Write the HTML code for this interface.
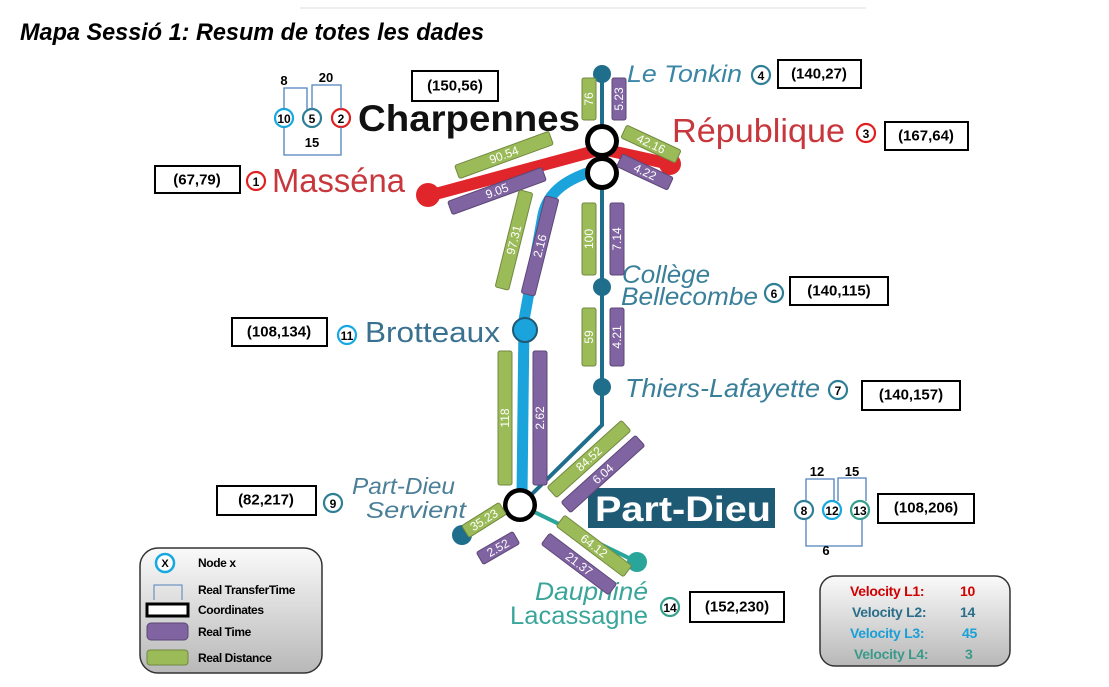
<!DOCTYPE html>
<html><head><meta charset="utf-8"><style>
html,body{margin:0;padding:0;background:#fff;}
svg{display:block;font-family:"Liberation Sans",sans-serif;}
.b text{fill:#fff;font-size:12px;text-anchor:middle;dominant-baseline:central;}
.g rect{fill:#9bbb59;stroke:#71893f;stroke-width:1;}
.p rect{fill:#8064a2;stroke:#5c4776;stroke-width:1;}
.box rect{fill:#fff;stroke:#000;stroke-width:2;}
.box text{font-weight:bold;font-size:15px;text-anchor:middle;dominant-baseline:central;}
.nd circle{fill:#fff;stroke-width:2.2;}
.nd text{font-weight:bold;font-size:12px;text-anchor:middle;dominant-baseline:central;}
.br{fill:none;stroke:#4f81bd;stroke-width:1.3;}
.bt{font-weight:bold;font-size:13px;text-anchor:middle;}
</style></head><body>
<svg width="1109" height="687" viewBox="0 0 1109 687">
<defs>
<linearGradient id="gr" x1="0" y1="0" x2="0" y2="1"><stop offset="0" stop-color="#fafafa"/><stop offset="1" stop-color="#b8b8b8"/></linearGradient>
</defs>
<line x1="300" y1="8" x2="866" y2="8" stroke="#ddd" stroke-width="1"/>
<text x="20" y="40" font-size="24" font-weight="bold" font-style="italic" textLength="464" lengthAdjust="spacingAndGlyphs">Mapa Sessió 1: Resum de totes les dades</text>

<!-- lines -->
<polyline points="602,73 602,425 528,498" fill="none" stroke="#1f6e8c" stroke-width="4"/>
<line x1="520" y1="505" x2="462" y2="535" stroke="#1f6e8c" stroke-width="4"/>
<line x1="520" y1="505" x2="637" y2="562" stroke="#2aa59a" stroke-width="4"/>
<path d="M596 170 C570 178 548 190 543 215 L524 320 L522 495" fill="none" stroke="#1ba3dc" stroke-width="11"/>
<polyline points="428,196 602,149 670,164" fill="none" stroke="#e0262b" stroke-width="12"/>
<circle cx="428" cy="195" r="12" fill="#e0262b"/>
<circle cx="670" cy="164" r="11" fill="#e0262b"/>
<circle cx="602" cy="74" r="9" fill="#1f6e8c"/>
<circle cx="602" cy="287" r="9" fill="#1f6e8c"/>
<circle cx="602" cy="387" r="9" fill="#1f6e8c"/>
<circle cx="462" cy="535" r="10" fill="#1f6e8c"/>
<circle cx="637" cy="562" r="10" fill="#2aa59a"/>
<circle cx="525" cy="330" r="12" fill="#1ba3dc" stroke="#1f5a75" stroke-width="2"/>
<circle cx="602" cy="141" r="17" fill="#000"/><circle cx="602" cy="173" r="17" fill="#000"/>
<circle cx="602" cy="141" r="12" fill="#fff"/><circle cx="602" cy="173" r="12" fill="#fff"/>
<circle cx="520" cy="505" r="17" fill="#000"/><circle cx="520" cy="505" r="12.5" fill="#fff"/>

<!-- station labels -->
<text x="627" y="82" font-size="24" font-style="italic" fill="#3a86a6" textLength="115" lengthAdjust="spacingAndGlyphs">Le Tonkin</text>
<text x="358" y="131" font-size="37" font-weight="bold" fill="#111" textLength="222" lengthAdjust="spacingAndGlyphs">Charpennes</text>
<text x="672" y="142" font-size="33" fill="#c7373c" textLength="173" lengthAdjust="spacingAndGlyphs">République</text>
<text x="272" y="192" font-size="33" fill="#c7373c" textLength="133" lengthAdjust="spacingAndGlyphs">Masséna</text>
<text x="622" y="283" font-size="25" font-style="italic" fill="#3a7f9a" textLength="88" lengthAdjust="spacingAndGlyphs">Collège</text>
<text x="621" y="305" font-size="25" font-style="italic" fill="#3a7f9a" textLength="137" lengthAdjust="spacingAndGlyphs">Bellecombe</text>
<text x="365" y="342" font-size="29" fill="#3a7090" textLength="135" lengthAdjust="spacingAndGlyphs">Brotteaux</text>
<text x="625" y="397" font-size="26" font-style="italic" fill="#3a7f9a" textLength="195" lengthAdjust="spacingAndGlyphs">Thiers-Lafayette</text>
<text x="352" y="494" font-size="23" font-style="italic" fill="#4b7f98" textLength="103" lengthAdjust="spacingAndGlyphs">Part-Dieu</text>
<text x="366" y="518" font-size="23" font-style="italic" fill="#4b7f98" textLength="100" lengthAdjust="spacingAndGlyphs">Servient</text>
<text x="535" y="600" font-size="25" font-style="italic" fill="#3aa59a" textLength="113" lengthAdjust="spacingAndGlyphs">Dauphiné</text>
<text x="510" y="624" font-size="25" fill="#3aa59a" textLength="138" lengthAdjust="spacingAndGlyphs">Lacassagne</text>
<rect x="588" y="488" width="187" height="40" fill="#1f5a75"/>
<text x="595" y="521" font-size="35" font-weight="bold" fill="#fff" textLength="176" lengthAdjust="spacingAndGlyphs">Part-Dieu</text>

<!-- bars -->
<g class="b g" transform="translate(589,99) rotate(-90)"><rect x="-21" y="-7" width="42" height="14" rx="2"/><text>76</text></g>
<g class="b p" transform="translate(619,99) rotate(-90)"><rect x="-21" y="-7" width="42" height="14" rx="2"/><text>5.23</text></g>
<g class="b g" transform="translate(504,155) rotate(-20)"><rect x="-50" y="-7" width="100" height="14" rx="2"/><text>90.54</text></g>
<g class="b p" transform="translate(497,191) rotate(-20)"><rect x="-50" y="-7" width="100" height="14" rx="2"/><text>9.05</text></g>
<g class="b g" transform="translate(651,144) rotate(25)"><rect x="-30" y="-7" width="60" height="14" rx="2"/><text>42.16</text></g>
<g class="b p" transform="translate(645,172) rotate(25)"><rect x="-28" y="-7" width="56" height="14" rx="2"/><text>4.22</text></g>
<g class="b g" transform="translate(514,240) rotate(-76)"><rect x="-50" y="-7" width="100" height="14" rx="2"/><text>97.31</text></g>
<g class="b p" transform="translate(540,246) rotate(-76)"><rect x="-50" y="-7" width="100" height="14" rx="2"/><text>2.16</text></g>
<g class="b g" transform="translate(589,239) rotate(-90)"><rect x="-36" y="-7" width="72" height="14" rx="2"/><text>100</text></g>
<g class="b p" transform="translate(617,239) rotate(-90)"><rect x="-36" y="-7" width="72" height="14" rx="2"/><text>7.14</text></g>
<g class="b g" transform="translate(589,337) rotate(-90)"><rect x="-29" y="-7" width="58" height="14" rx="2"/><text>59</text></g>
<g class="b p" transform="translate(617,337) rotate(-90)"><rect x="-29" y="-7" width="58" height="14" rx="2"/><text>4.21</text></g>
<g class="b g" transform="translate(505,418) rotate(-90)"><rect x="-67" y="-7" width="134" height="14" rx="2"/><text>118</text></g>
<g class="b p" transform="translate(540,418) rotate(-90)"><rect x="-67" y="-7" width="134" height="14" rx="2"/><text>2.62</text></g>
<g class="b g" transform="translate(589,459) rotate(-42)"><rect x="-50" y="-7" width="100" height="14" rx="2"/><text>84.52</text></g>
<g class="b p" transform="translate(603,474) rotate(-42)"><rect x="-50" y="-7" width="100" height="14" rx="2"/><text>6.04</text></g>
<g class="b g" transform="translate(484,520) rotate(-32)"><rect x="-22" y="-7" width="44" height="14" rx="2"/><text>35.23</text></g>
<g class="b p" transform="translate(498,548) rotate(-30)"><rect x="-21" y="-7" width="42" height="14" rx="2"/><text>2.52</text></g>
<g class="b g" transform="translate(594,546) rotate(37)"><rect x="-42" y="-7" width="84" height="14" rx="2"/><text>64.12</text></g>
<g class="b p" transform="translate(579,564) rotate(37)"><rect x="-42" y="-7" width="84" height="14" rx="2"/><text>21.37</text></g>

<!-- coord boxes -->
<g class="box"><rect x="412" y="71" width="86" height="30"/><text x="455" y="86">(150,56)</text></g>
<g class="box"><rect x="778" y="60" width="83" height="28"/><text x="819" y="74">(140,27)</text></g>
<g class="box"><rect x="885" y="122" width="83" height="28"/><text x="926" y="136">(167,64)</text></g>
<g class="box"><rect x="155" y="166" width="85" height="27"/><text x="197" y="180">(67,79)</text></g>
<g class="box"><rect x="790" y="277" width="98" height="28"/><text x="839" y="291">(140,115)</text></g>
<g class="box"><rect x="232" y="318" width="95" height="28"/><text x="279" y="332">(108,134)</text></g>
<g class="box"><rect x="862" y="381" width="98" height="29"/><text x="911" y="395">(140,157)</text></g>
<g class="box"><rect x="217" y="486" width="99" height="29"/><text x="266" y="500">(82,217)</text></g>
<g class="box"><rect x="878" y="494" width="96" height="29"/><text x="926" y="508">(108,206)</text></g>
<g class="box"><rect x="690" y="592" width="94" height="30"/><text x="737" y="607">(152,230)</text></g>

<!-- nodes -->
<g class="nd">
<circle cx="256" cy="181" r="9" stroke="#e02020"/><text x="256" y="182">1</text>
<circle cx="341" cy="118" r="9" stroke="#e02020"/><text x="341" y="119">2</text>
<circle cx="312" cy="118" r="9" stroke="#2e7f96"/><text x="312" y="119">5</text>
<circle cx="284" cy="118" r="9" stroke="#16a8e0"/><text x="284" y="119">10</text>
<circle cx="866" cy="133" r="9" stroke="#e02020"/><text x="866" y="134">3</text>
<circle cx="761" cy="75" r="9" stroke="#2e7f96"/><text x="761" y="76">4</text>
<circle cx="774" cy="293" r="9" stroke="#2e7f96"/><text x="774" y="294">6</text>
<circle cx="838" cy="390" r="9" stroke="#2e7f96"/><text x="838" y="391">7</text>
<circle cx="804" cy="510" r="9" stroke="#2e7f96"/><text x="804" y="511">8</text>
<circle cx="832" cy="510" r="9" stroke="#16a8e0"/><text x="832" y="511">12</text>
<circle cx="860" cy="510" r="9" stroke="#35a08c"/><text x="860" y="511">13</text>
<circle cx="333" cy="503" r="9" stroke="#2e7f96"/><text x="333" y="504">9</text>
<circle cx="347" cy="335" r="9" stroke="#16a8e0"/><text x="347" y="336">11</text>
<circle cx="670" cy="607" r="9" stroke="#35a08c"/><text x="670" y="608">14</text>
</g>

<!-- brackets -->
<polyline class="br" points="284,109 284,88 307,88 307,110"/>
<polyline class="br" points="312,109 312,85 341,85 341,109"/>
<polyline class="br" points="284,127 284,155 341,155 341,127"/>
<text class="bt" x="284" y="85">8</text>
<text class="bt" x="326" y="82">20</text>
<text class="bt" x="312" y="147">15</text>
<polyline class="br" points="806,501 806,479 834,479 834,501"/>
<polyline class="br" points="838,501 838,478 866,478 866,501"/>
<polyline class="br" points="806,519 806,546 862,546 862,519"/>
<text class="bt" x="817" y="476">12</text>
<text class="bt" x="852" y="476">15</text>
<text class="bt" x="826" y="555">6</text>

<!-- legend -->
<rect x="140" y="548" width="182" height="125" rx="18" fill="url(#gr)" stroke="#333" stroke-width="1.5"/>
<circle cx="165" cy="563" r="9" fill="#fff" stroke="#16a8e0" stroke-width="2.5"/>
<text x="165" y="567" font-size="11" font-weight="bold" text-anchor="middle">X</text>
<g font-size="12" font-weight="bold" letter-spacing="-0.4">
<text x="198" y="567">Node x</text>
<polyline points="154,600 154,585 182,585 182,600" fill="none" stroke="#4f81bd" stroke-width="1"/>
<text x="198" y="594">Real TransferTime</text>
<rect x="147" y="604" width="41" height="12" fill="#fff" stroke="#000" stroke-width="3"/>
<text x="198" y="614">Coordinates</text>
<rect x="147" y="623" width="41" height="17" rx="4" fill="#8064a2" stroke="#5c4776"/>
<text x="198" y="636">Real Time</text>
<rect x="147" y="650" width="41" height="15" rx="3" fill="#9bbb59" stroke="#71893f"/>
<text x="198" y="662">Real Distance</text>
</g>

<!-- velocity -->
<rect x="820" y="576" width="190" height="90" rx="15" fill="url(#gr)" stroke="#333" stroke-width="1.5"/>
<g font-size="14" font-weight="bold" letter-spacing="-0.3">
<text x="850" y="596" fill="#d00000">Velocity L1:</text><text x="960" y="596" fill="#d00000">10</text>
<text x="852" y="617" fill="#2a6f8a">Velocity L2:</text><text x="960" y="617" fill="#2a6f8a">14</text>
<text x="850" y="638" fill="#1aa0d8">Velocity L3:</text><text x="962" y="638" fill="#1aa0d8">45</text>
<text x="854" y="659" fill="#3a9a8a">Velocity L4:</text><text x="965" y="659" fill="#3a9a8a">3</text>
</g>
</svg>
</body></html>
